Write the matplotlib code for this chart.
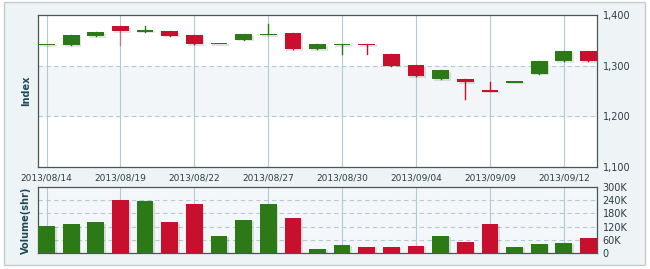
import numpy as np
import matplotlib
matplotlib.use("Agg")
import matplotlib.pyplot as plt
from matplotlib.patches import Rectangle
import matplotlib.patheffects as pe

# ---------------------- data ----------------------
dates = ["2013/08/14", "2013/08/15", "2013/08/16", "2013/08/19", "2013/08/20",
         "2013/08/21", "2013/08/22", "2013/08/23", "2013/08/26", "2013/08/27",
         "2013/08/28", "2013/08/29", "2013/08/30", "2013/09/02", "2013/09/03",
         "2013/09/04", "2013/09/05", "2013/09/06", "2013/09/09", "2013/09/10",
         "2013/09/11", "2013/09/12", "2013/09/13"]
opens = [1342, 1341, 1358, 1378, 1367, 1368, 1361, 1344, 1351, 1362, 1364, 1333,
         1342, 1342.5, 1323, 1301, 1274, 1273, 1250.5, 1267.5, 1284, 1309, 1328]
closes = [1342, 1360, 1366, 1368, 1371, 1359, 1343, 1344, 1362, 1362, 1333, 1343,
          1342, 1342, 1300, 1279, 1291, 1268, 1250, 1267.5, 1310, 1328, 1309]
highs = [1342, 1360, 1366, 1378, 1378, 1368, 1361, 1344, 1362, 1382, 1364, 1343,
         1342, 1342.5, 1323, 1301, 1291, 1273, 1267.5, 1267.5, 1310, 1328, 1328]
lows = [1342, 1341, 1358, 1341, 1367, 1359, 1343, 1344, 1351, 1362, 1333, 1333,
        1324, 1324, 1300, 1279, 1274, 1235, 1250, 1267.5, 1284, 1309, 1309]
volumes = [124, 130, 139, 239, 235, 139, 221, 79, 151, 221, 158, 20,
           38, 29, 29, 33, 79, 48, 130, 29, 42, 47, 70]  # thousands of shares

GREEN = "#2b7a17"
RED = "#c8102e"
GRID = "#b4cad2"

x = np.arange(len(dates))
colors = [GREEN if c >= o else RED for o, c in zip(opens, closes)]
# the two flat "T" days close down in the source
colors[13] = RED
colors[18] = RED

fig = plt.figure(figsize=(6.5, 2.69), dpi=100)
fig.patch.set_facecolor("white")
# outer frame
fig.patches.append(Rectangle((4 / 650, 4 / 269), 641 / 650, 263 / 269, transform=fig.transFigure,
                             facecolor="#eef3f5", edgecolor="#c2ccd0", lw=1, zorder=-10))

ax = fig.add_axes([38 / 650, 1 - 167 / 269, 559 / 650, 152 / 269])
axv = fig.add_axes([38 / 650, 1 - 253 / 269, 559 / 650, 66 / 269])

shadow = [pe.SimplePatchShadow(offset=(1.2, -1.2), alpha=0.12), pe.Normal()]
w = 0.68
for i in x:
    ax.plot([i, i], [lows[i], highs[i]], color=colors[i], lw=1, zorder=3,
            alpha=0.45 if i == 3 else 1)
    bottom = min(opens[i], closes[i])
    h = max(abs(closes[i] - opens[i]), 2.5)
    r = Rectangle((i - w / 2, bottom - (h - abs(closes[i] - opens[i])) / 2), w, h,
                  facecolor=colors[i], edgecolor="none", zorder=4)
    r.set_path_effects(shadow)
    ax.add_patch(r)

bars = axv.bar(x, volumes, width=w, color=colors, zorder=3)
for b in bars:
    b.set_path_effects(shadow)

label_pos = x[::3]
for a in (ax, axv):
    a.set_xlim(-0.35, 22.35)
    a.set_xticks(label_pos)
    for p in label_pos:
        a.axvline(p, color=GRID, lw=0.8, zorder=1)
    a.yaxis.tick_right()
    a.tick_params(length=0, labelsize=7, labelcolor="#2e3e46", pad=4)
    for s in a.spines.values():
        s.set_color("#4a5656")
        s.set_linewidth(0.9)

ax.set_ylim(1100, 1400)
ax.set_yticks([1100, 1200, 1300, 1400])
ax.set_yticklabels(["1,100", "1,200", "1,300", "1,400"])
ax.set_facecolor("white")
ax.axhspan(1200, 1300, color="#f2f6f8", zorder=0)
for yv in (1200, 1300):
    ax.axhline(yv, color=GRID, lw=0.8, ls=(0, (4, 3)), zorder=1)
ax.set_xticklabels([dates[i] for i in label_pos], fontsize=6.5)
ax.tick_params(axis="x", pad=5)
ax.set_ylabel("Index", fontsize=7, fontweight="bold", color="#1d4b58", labelpad=5)

axv.set_ylim(0, 300)
axv.set_yticks([0, 60, 120, 180, 240, 300])
axv.set_yticklabels(["0", "60K", "120K", "180K", "240K", "300K"])
axv.set_xticklabels([])
axv.set_facecolor("#f4f7f9")
for yv in (60, 120, 180, 240):
    axv.axhline(yv, color=GRID, lw=0.8, ls=(0, (4, 3)), zorder=1)
axv.set_ylabel("Volume(shr)", fontsize=7, fontweight="bold", color="#1d4b58", labelpad=5)

fig.savefig("out.png", dpi=100)
